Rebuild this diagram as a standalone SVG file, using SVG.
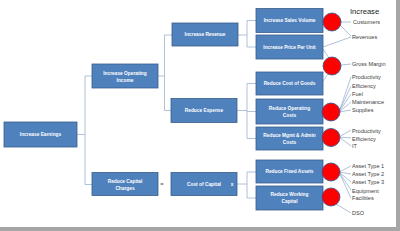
<svg xmlns="http://www.w3.org/2000/svg" width="400" height="231" viewBox="0 0 400 231">
<style>
.box{fill:#4f81bd;stroke:#385d8a;stroke-width:0.8}
.bt{font-family:"Liberation Sans",Arial,sans-serif;font-size:4.8px;font-weight:bold;fill:#ffffff;text-anchor:middle}
.c{fill:#ff0000;stroke:#2f528f;stroke-width:0.8}
.lt{font-family:"Liberation Sans",Arial,sans-serif;font-size:5.6px;fill:#404040}
.ln{stroke:#9bb3cf;stroke-width:0.8;fill:none}
</style>
<rect width="400" height="231" fill="#ffffff"/>
<rect x="396" y="0" width="4" height="231" fill="#a6a6a6"/>
<rect x="0" y="227" width="400" height="4" fill="#a6a6a6"/>
<g id="connectors">
<path class="ln" d="M77,134.5H85M85,76V184.5M85,76H92M85,184.5H92"/>
<path class="ln" d="M158,76H164.5M164.5,35V110.5M164.5,35H172M164.5,110.5H171"/>
<path class="ln" d="M238,35H247M247,20.5V47M247,20.5H256M247,47H256"/>
<path class="ln" d="M237,110.5H247M247,83.5V138.5M247,83.5H256M247,111.5H256M247,138.5H256"/>
<path class="ln" d="M237,184H247M247,172V198M247,172H256M247,198H256"/>
<path class="ln" d="M341,22H351M340,25L351,36M323,47L351,37M323,49L329,58M341,65L351,64M321,84L328,74"/>
<path class="ln" d="M339,112L351,77M339,112L351,86M339,112L351,94M339,112L351,102M339,112L351,110"/>
<path class="ln" d="M339,137L351,130M339,137L351,138M339,137L351,146"/>
<path class="ln" d="M339,172L351,166M339,172L351,174M339,172L351,182M339,172L351,190M339,172L351,198"/>
<path class="ln" d="M336,204L351,213"/>
</g>
<g id="increase-earnings"><rect class="box" x="4" y="122" width="73" height="25"/><text class="bt" x="40.5" y="136.2">Increase Earnings</text></g>
<g id="increase-operating-income"><rect class="box" x="92" y="64" width="66" height="24"/><text class="bt" x="125" y="74.5">Increase Operating</text><text class="bt" x="125" y="81.5">Income</text></g>
<g id="reduce-capital-charges"><rect class="box" x="92" y="172.5" width="66" height="23"/><text class="bt" x="125" y="182.5">Reduce Capital</text><text class="bt" x="125" y="189.5">Charges</text></g>
<g id="equals"><text class="lt" x="162" y="186" text-anchor="middle" fill="#7f7f7f">=</text></g>
<g id="cost-of-capital"><rect class="box" x="171" y="172.5" width="66" height="23"/><text class="bt" x="204" y="185.7">Cost of Capital</text><text class="bt" x="232" y="185.7">x</text></g>
<g id="increase-revenue"><rect class="box" x="172" y="23" width="66" height="23"/><text class="bt" x="205" y="36.2">Increase Revenue</text></g>
<g id="reduce-expense"><rect class="box" x="171" y="98.5" width="66" height="24"/><text class="bt" x="204" y="112.2">Reduce Expense</text></g>
<g id="increase-sales-volume"><rect class="box" x="256" y="8.5" width="67" height="24"/><text class="bt" x="289.5" y="22.2">Increase Sales Volume</text></g>
<g id="increase-price-per-unit"><rect class="box" x="256" y="35" width="67" height="24"/><text class="bt" x="289.5" y="48.7">Increase Price Per Unit</text></g>
<g id="reduce-cost-of-goods"><rect class="box" x="256" y="72" width="67" height="23"/><text class="bt" x="289.5" y="85.2">Reduce Cost of Goods</text></g>
<g id="reduce-operating-costs"><rect class="box" x="256" y="99" width="67" height="25"/><text class="bt" x="289.5" y="109.5">Reduce Operating</text><text class="bt" x="289.5" y="116.5">Costs</text></g>
<g id="reduce-mgmt-admin-costs"><rect class="box" x="256" y="127" width="67" height="23"/><text class="bt" x="289.5" y="136.5">Reduce Mgmt &amp; Admin</text><text class="bt" x="289.5" y="143.5">Costs</text></g>
<g id="reduce-fixed-assets"><rect class="box" x="256" y="160" width="67" height="23"/><text class="bt" x="289.5" y="173.2">Reduce Fixed Assets</text></g>
<g id="reduce-working-capital"><rect class="box" x="256" y="186" width="67" height="24"/><text class="bt" x="289.5" y="196">Reduce Working</text><text class="bt" x="289.5" y="203">Capital</text></g>
<g id="circles">
<circle class="c" cx="332" cy="22" r="9"/>
<circle class="c" cx="332" cy="66" r="9"/>
<circle class="c" cx="331" cy="112" r="9"/>
<circle class="c" cx="331" cy="137.5" r="9"/>
<circle class="c" cx="331" cy="172" r="9"/>
<circle class="c" cx="331" cy="197" r="9"/>
</g>
<g id="labels">
<text x="350" y="14" font-family="'Liberation Sans',Arial,sans-serif" font-size="7.6px" fill="#1a1a1a">Increase</text>
<text class="lt" x="353" y="24">Customers</text>
<text class="lt" x="352" y="39">Revenues</text>
<text class="lt" x="352" y="66">Gross Margin</text>
<text class="lt" x="352" y="79">Productivity</text>
<text class="lt" x="352" y="87.5">Efficiency</text>
<text class="lt" x="352" y="95.5">Fuel</text>
<text class="lt" x="352" y="104">Maintenance</text>
<text class="lt" x="352" y="112">Supplies</text>
<text class="lt" x="352" y="132.5">Productivity</text>
<text class="lt" x="352" y="140.5">Efficiency</text>
<text class="lt" x="352" y="148">IT</text>
<text class="lt" x="352" y="168">Asset Type 1</text>
<text class="lt" x="352" y="176">Asset Type 2</text>
<text class="lt" x="352" y="184">Asset Type 3</text>
<text class="lt" x="352" y="192.5">Equipment</text>
<text class="lt" x="352" y="200">Facilities</text>
<text class="lt" x="352" y="215">DSO</text>
</g>
</svg>
